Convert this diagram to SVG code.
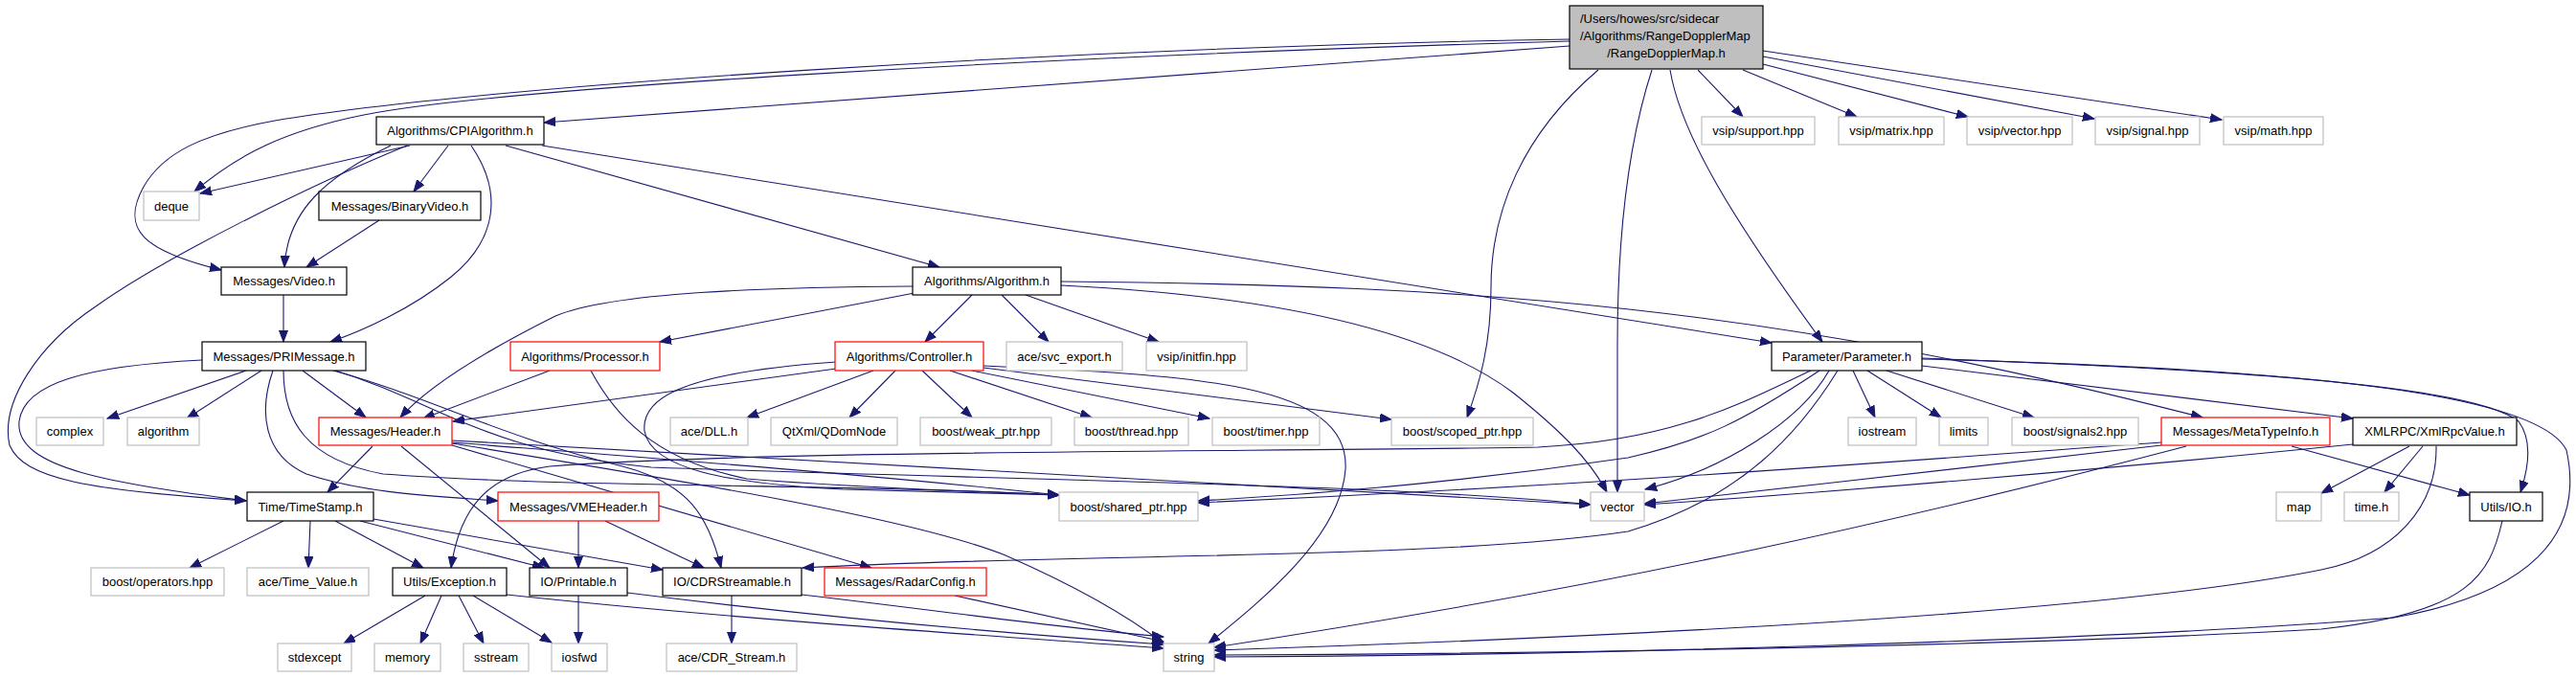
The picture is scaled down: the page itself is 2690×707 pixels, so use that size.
<svg xmlns="http://www.w3.org/2000/svg" width="2690" height="707" viewBox="0 0 2690 707">
<style>
text{font-family:"Liberation Sans",Arial,Helvetica,sans-serif;font-size:13px;fill:#000;text-anchor:middle}
.b{fill:#fff;stroke:#000;stroke-width:1.2}
.g{fill:#fff;stroke:#bfbfbf;stroke-width:1.2}
.r{fill:#fff;stroke:#ff0000;stroke-width:1.2}
.m{fill:#bfbfbf;stroke:#000;stroke-width:1.2}
#edges path{fill:none;stroke:#191970;stroke-width:1.1;marker-end:url(#a)}
</style>
<defs>
<marker id="a" markerWidth="13" markerHeight="10" refX="12" refY="5" orient="auto" markerUnits="userSpaceOnUse">
<path d="M0,0.5 L12,5 L0,9.5 z" fill="#191970" stroke="#191970" stroke-width="1"/>
</marker>
</defs>
<rect width="2690" height="707" fill="#fff"/>
<g id="edges">
<path d="M1639,41 C1100,50 500,90 287,126 C210,140 170,160 150,195 C125,240 150,262 231,282"/>
<path d="M1639,43 C1100,58 520,92 380,120 C300,136 250,160 203,200"/>
<path d="M1639,48 L568,128"/>
<path d="M1669,73 C1590,140 1557,220 1557,300 C1557,360 1545,400 1532,436"/>
<path d="M1725,73 C1700,150 1689,250 1689,360 L1689,514"/>
<path d="M1744,73 C1755,140 1810,230 1903,357"/>
<path d="M1773,73 L1820,122"/>
<path d="M1820,73 L1939,122"/>
<path d="M1841,67 L2055,122"/>
<path d="M1841,59 L2187,124"/>
<path d="M1841,53 L2320,125"/>
<path d="M428,152 L209,202"/>
<path d="M408,152 C340,185 300,220 297,279"/>
<path d="M425,152 C320,195 170,270 100,320 C40,360 0,420 10,465 C25,500 90,512 257,523"/>
<path d="M468,152 L432,200"/>
<path d="M492,152 C525,200 520,250 470,290 C430,322 380,345 345,357"/>
<path d="M528,152 L981,279"/>
<path d="M566,152 L1850,358"/>
<path d="M396,230 L320,279"/>
<path d="M296,308 L296,357"/>
<path d="M953,299 C800,300 640,305 580,330 C520,360 450,400 418,436"/>
<path d="M955,306 L689,357"/>
<path d="M1015,308 L966,357"/>
<path d="M1046,308 L1095,357"/>
<path d="M1071,308 L1210,357"/>
<path d="M1108,298 C1350,310 1500,350 1580,410 C1630,450 1660,480 1678,514"/>
<path d="M1108,294 C1550,298 1850,320 2300,436"/>
<path d="M211,376 C90,382 25,400 20,440 C15,490 120,505 257,523"/>
<path d="M257,387 L112,437"/>
<path d="M273,387 L195,437"/>
<path d="M316,387 L382,436"/>
<path d="M285,387 C270,430 275,475 320,495 C380,515 450,518 520,523"/>
<path d="M296,387 C296,440 320,480 400,495 C600,510 900,505 1106,517"/>
<path d="M344,385 C460,420 500,470 680,488 C1000,500 1450,505 1661,527"/>
<path d="M348,387 C450,415 520,455 650,487 C720,505 740,540 753,593"/>
<path d="M389,466 L342,514"/>
<path d="M419,466 L574,593"/>
<path d="M472,465 L910,593"/>
<path d="M472,463 C700,500 950,540 1050,580 C1130,615 1180,645 1215,672"/>
<path d="M472,462 C700,480 900,495 1106,517"/>
<path d="M472,460 C800,480 1300,505 1661,527"/>
<path d="M574,387 L442,437"/>
<path d="M617,387 C640,430 680,480 780,500 C900,510 1000,512 1106,517"/>
<path d="M873,385 L473,440"/>
<path d="M912,387 L780,436"/>
<path d="M935,387 L887,436"/>
<path d="M963,387 L1015,436"/>
<path d="M992,387 L1140,436"/>
<path d="M1015,387 L1263,437"/>
<path d="M1027,384 L1453,438"/>
<path d="M1027,382 C1250,392 1410,400 1405,490 C1400,560 1320,625 1262,672"/>
<path d="M873,378 C700,390 670,420 673,450 C680,490 760,505 880,511 L1106,517"/>
<path d="M296,544 L198,593"/>
<path d="M324,544 L322,593"/>
<path d="M350,544 L442,593"/>
<path d="M376,544 L568,593"/>
<path d="M390,542 L692,595"/>
<path d="M604,544 L604,593"/>
<path d="M632,544 L735,593"/>
<path d="M444,622 L359,672"/>
<path d="M461,622 L439,672"/>
<path d="M479,622 L505,672"/>
<path d="M494,622 L576,671"/>
<path d="M529,621 C800,650 1100,668 1215,677"/>
<path d="M604,622 L604,672"/>
<path d="M655,619 C900,650 1100,665 1215,673"/>
<path d="M764,622 L764,672"/>
<path d="M837,621 C1000,640 1100,655 1215,665"/>
<path d="M997,622 L1215,670"/>
<path d="M1891,387 C1820,420 1750,460 1606,467 C1300,472 800,470 574,487 C510,495 480,530 471,593"/>
<path d="M1900,387 C1820,440 1780,460 1700,478 C1550,500 1400,515 1251,523"/>
<path d="M1910,387 C1880,440 1800,490 1718,511"/>
<path d="M1919,387 C1880,450 1820,520 1700,555 C1500,585 1100,578 838,593"/>
<path d="M1935,387 L1958,436"/>
<path d="M1950,387 L2027,436"/>
<path d="M1970,387 L2124,436"/>
<path d="M2007,382 L2457,437"/>
<path d="M2007,374 C2300,385 2580,400 2630,440 C2645,460 2640,490 2632,514"/>
<path d="M2007,375 C2400,385 2650,410 2680,470 C2700,560 2640,620 2500,645 C2200,670 1600,685 1268,686"/>
<path d="M2257,462 C2000,480 1700,505 1251,525"/>
<path d="M2257,465 C2050,490 1900,505 1717,526"/>
<path d="M2283,466 C2000,540 1700,610 1268,676"/>
<path d="M2393,466 L2579,517"/>
<path d="M2516,466 L2424,515"/>
<path d="M2530,466 L2490,514"/>
<path d="M2457,464 C2200,490 1900,515 1717,527"/>
<path d="M2544,466 C2545,530 2500,580 2424,595 C2200,640 1700,665 1268,679"/>
<path d="M2613,544 C2600,600 2580,640 2424,657 C2100,675 1600,683 1268,684"/>
</g>
<g id="n-main"><rect class="m" x="1639" y="6" width="202" height="66"/><text x="1650" y="23.5" style="text-anchor:start">/Users/howes/src/sidecar</text><text x="1650" y="41.5" style="text-anchor:start">/Algorithms/RangeDopplerMap</text><text x="1740" y="60">/RangeDopplerMap.h</text></g>
<g id="n-cpi"><rect class="b" x="393" y="122" width="175" height="29"/><text x="480.5" y="141">Algorithms/CPIAlgorithm.h</text></g>
<g id="n-vsup"><rect class="g" x="1777" y="122" width="118" height="29"/><text x="1836" y="141">vsip/support.hpp</text></g>
<g id="n-vmat"><rect class="g" x="1920" y="122" width="110" height="29"/><text x="1975" y="141">vsip/matrix.hpp</text></g>
<g id="n-vvec"><rect class="g" x="2054" y="122" width="110" height="29"/><text x="2109" y="141">vsip/vector.hpp</text></g>
<g id="n-vsig"><rect class="g" x="2188" y="122" width="109" height="29"/><text x="2242.5" y="141">vsip/signal.hpp</text></g>
<g id="n-vmath"><rect class="g" x="2322" y="122" width="104" height="29"/><text x="2374" y="141">vsip/math.hpp</text></g>
<g id="n-deque"><rect class="g" x="150" y="200" width="58" height="30"/><text x="179" y="219.5">deque</text></g>
<g id="n-binv"><rect class="b" x="333" y="200" width="169" height="30"/><text x="417.5" y="219.5">Messages/BinaryVideo.h</text></g>
<g id="n-video"><rect class="b" x="231" y="279" width="131" height="29"/><text x="296.5" y="298">Messages/Video.h</text></g>
<g id="n-alg"><rect class="b" x="953" y="279" width="155" height="29"/><text x="1030.5" y="298">Algorithms/Algorithm.h</text></g>
<g id="n-pri"><rect class="b" x="211" y="357" width="171" height="30"/><text x="296.5" y="376.5">Messages/PRIMessage.h</text></g>
<g id="n-proc"><rect class="r" x="533" y="357" width="156" height="30"/><text x="611" y="376.5">Algorithms/Processor.h</text></g>
<g id="n-ctrl"><rect class="r" x="872" y="357" width="155" height="30"/><text x="949.5" y="376.5">Algorithms/Controller.h</text></g>
<g id="n-svc"><rect class="g" x="1051" y="357" width="121" height="30"/><text x="1111.5" y="376.5">ace/svc_export.h</text></g>
<g id="n-initfin"><rect class="g" x="1197" y="357" width="105" height="30"/><text x="1249.5" y="376.5">vsip/initfin.hpp</text></g>
<g id="n-param"><rect class="b" x="1850" y="357" width="157" height="30"/><text x="1928.5" y="376.5">Parameter/Parameter.h</text></g>
<g id="n-complex"><rect class="g" x="38" y="436" width="70" height="29"/><text x="73" y="455">complex</text></g>
<g id="n-algorithm"><rect class="g" x="133" y="436" width="75" height="29"/><text x="170.5" y="455">algorithm</text></g>
<g id="n-header"><rect class="r" x="333" y="436" width="139" height="29"/><text x="402.5" y="455">Messages/Header.h</text></g>
<g id="n-dll"><rect class="g" x="700" y="436" width="81" height="29"/><text x="740.5" y="455">ace/DLL.h</text></g>
<g id="n-qdom"><rect class="g" x="805" y="436" width="132" height="29"/><text x="871" y="455">QtXml/QDomNode</text></g>
<g id="n-weak"><rect class="g" x="961" y="436" width="137" height="29"/><text x="1029.5" y="455">boost/weak_ptr.hpp</text></g>
<g id="n-thread"><rect class="g" x="1122" y="436" width="119" height="29"/><text x="1181.5" y="455">boost/thread.hpp</text></g>
<g id="n-timer"><rect class="g" x="1266" y="436" width="112" height="29"/><text x="1322" y="455">boost/timer.hpp</text></g>
<g id="n-scoped"><rect class="g" x="1453" y="436" width="148" height="29"/><text x="1527" y="455">boost/scoped_ptr.hpp</text></g>
<g id="n-iostream"><rect class="g" x="1930" y="436" width="71" height="29"/><text x="1965.5" y="455">iostream</text></g>
<g id="n-limits"><rect class="g" x="2025" y="436" width="51" height="29"/><text x="2050.5" y="455">limits</text></g>
<g id="n-signals2"><rect class="g" x="2101" y="436" width="132" height="29"/><text x="2167" y="455">boost/signals2.hpp</text></g>
<g id="n-meta"><rect class="r" x="2257" y="436" width="176" height="29"/><text x="2345" y="455">Messages/MetaTypeInfo.h</text></g>
<g id="n-xmlrpc"><rect class="b" x="2457" y="436" width="171" height="29"/><text x="2542.5" y="455">XMLRPC/XmlRpcValue.h</text></g>
<g id="n-timestamp"><rect class="b" x="258" y="514" width="132" height="30"/><text x="324" y="533.5">Time/TimeStamp.h</text></g>
<g id="n-vme"><rect class="r" x="520" y="514" width="168" height="30"/><text x="604" y="533.5">Messages/VMEHeader.h</text></g>
<g id="n-shared"><rect class="g" x="1106" y="514" width="145" height="30"/><text x="1178.5" y="533.5">boost/shared_ptr.hpp</text></g>
<g id="n-vector"><rect class="g" x="1661" y="514" width="56" height="30"/><text x="1689" y="533.5">vector</text></g>
<g id="n-map"><rect class="g" x="2377" y="514" width="47" height="30"/><text x="2400.5" y="533.5">map</text></g>
<g id="n-timeh"><rect class="g" x="2448" y="514" width="57" height="30"/><text x="2476.5" y="533.5">time.h</text></g>
<g id="n-io"><rect class="b" x="2579" y="514" width="76" height="30"/><text x="2617" y="533.5">Utils/IO.h</text></g>
<g id="n-operators"><rect class="g" x="95" y="593" width="139" height="29"/><text x="164.5" y="612">boost/operators.hpp</text></g>
<g id="n-timeval"><rect class="g" x="258" y="593" width="127" height="29"/><text x="321.5" y="612">ace/Time_Value.h</text></g>
<g id="n-exception"><rect class="b" x="410" y="593" width="119" height="29"/><text x="469.5" y="612">Utils/Exception.h</text></g>
<g id="n-printable"><rect class="b" x="553" y="593" width="102" height="29"/><text x="604" y="612">IO/Printable.h</text></g>
<g id="n-cdr"><rect class="b" x="692" y="593" width="145" height="29"/><text x="764.5" y="612">IO/CDRStreamable.h</text></g>
<g id="n-radar"><rect class="r" x="861" y="593" width="169" height="29"/><text x="945.5" y="612">Messages/RadarConfig.h</text></g>
<g id="n-stdexcept"><rect class="g" x="290" y="672" width="77" height="29"/><text x="328.5" y="691">stdexcept</text></g>
<g id="n-memory"><rect class="g" x="391" y="672" width="69" height="29"/><text x="425.5" y="691">memory</text></g>
<g id="n-sstream"><rect class="g" x="484" y="672" width="68" height="29"/><text x="518" y="691">sstream</text></g>
<g id="n-iosfwd"><rect class="g" x="576" y="672" width="58" height="29"/><text x="605" y="691">iosfwd</text></g>
<g id="n-cdrstream"><rect class="g" x="696" y="672" width="136" height="29"/><text x="764" y="691">ace/CDR_Stream.h</text></g>
<g id="n-string"><rect class="g" x="1215" y="672" width="53" height="29"/><text x="1241.5" y="691">string</text></g>
</svg>
